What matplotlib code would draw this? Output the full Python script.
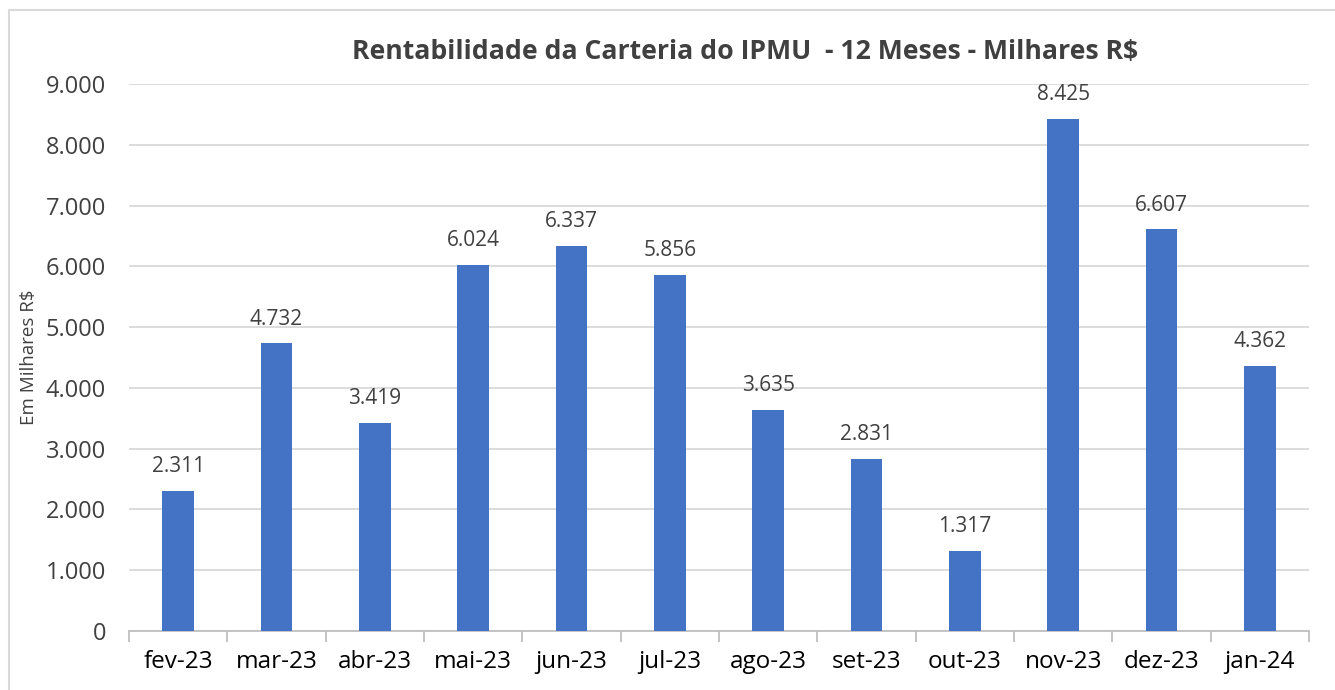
import matplotlib
matplotlib.use("Agg")
import matplotlib.pyplot as plt
from matplotlib.patches import Rectangle
from matplotlib.ticker import FuncFormatter, MultipleLocator, FixedLocator

categories = ["fev-23", "mar-23", "abr-23", "mai-23", "jun-23", "jul-23",
              "ago-23", "set-23", "out-23", "nov-23", "dez-23", "jan-24"]
values = [2311, 4732, 3419, 6024, 6337, 5856, 3635, 2831, 1317, 8425, 6607, 4362]
title = "Rentabilidade da Carteria do IPMU  - 12 Meses - Milhares R$"
ylabel = "Em Milhares R$"

def br(v):
    return f"{int(round(v)):,}".replace(",", ".")

plt.rcParams['font.family'] = ['Open Sans', 'DejaVu Sans']
fig = plt.figure(figsize=(13.35, 6.9), dpi=100)
fig.patch.set_facecolor("white")
# outer chart border
fig.add_artist(Rectangle((8.5/1335, -0.05), 1.2, (690-9.5)/690 + 0.05,
                         transform=fig.transFigure, fill=False,
                         edgecolor="#d9d9d9", linewidth=1.5))

ax = fig.add_axes([129/1335, 1-631/690, (1309-129)/1335, (631-84)/690])
x = list(range(len(categories)))
ax.bar(x, values, width=0.32, color="#4472c4", zorder=3)
ax.set_xlim(-0.5, len(categories)-0.5)
ax.set_ylim(0, 9000)
ax.yaxis.set_major_locator(MultipleLocator(1000))
ax.yaxis.set_major_formatter(FuncFormatter(lambda v, p: br(v)))
ax.grid(axis="y", color="#d9d9d9", linewidth=1.3, zorder=0)
for s in ["top", "right", "left"]:
    ax.spines[s].set_visible(False)
ax.spines["bottom"].set_color("#bfbfbf")
ax.spines["bottom"].set_linewidth(1.3)
ax.set_xticks(x)
ax.set_xticklabels(categories, fontsize=17.5, color="#000000")
ax.tick_params(axis="x", length=0, pad=14)
ax.xaxis.set_minor_locator(FixedLocator([i - 0.5 for i in range(len(categories)+1)]))
ax.tick_params(axis="x", which="minor", length=8, color="#bfbfbf", width=1.3)
ax.tick_params(axis="y", length=0, labelsize=17, labelcolor="#404040", pad=16.5)
for xi, v in zip(x, values):
    ax.annotate(br(v), (xi, v), xytext=(0, 10), textcoords="offset points",
                ha="center", va="bottom", fontsize=15, color="#404040")
ax.set_ylabel(ylabel, fontsize=13.5, color="#404040")
ax.yaxis.set_label_coords(-0.077, 0.5)
fig.text(0.558, 1-52/690, title, ha="center", va="center",
         fontsize=19.2, fontweight="bold", color="#404040")
fig.savefig("out.png", dpi=100, facecolor="white")
